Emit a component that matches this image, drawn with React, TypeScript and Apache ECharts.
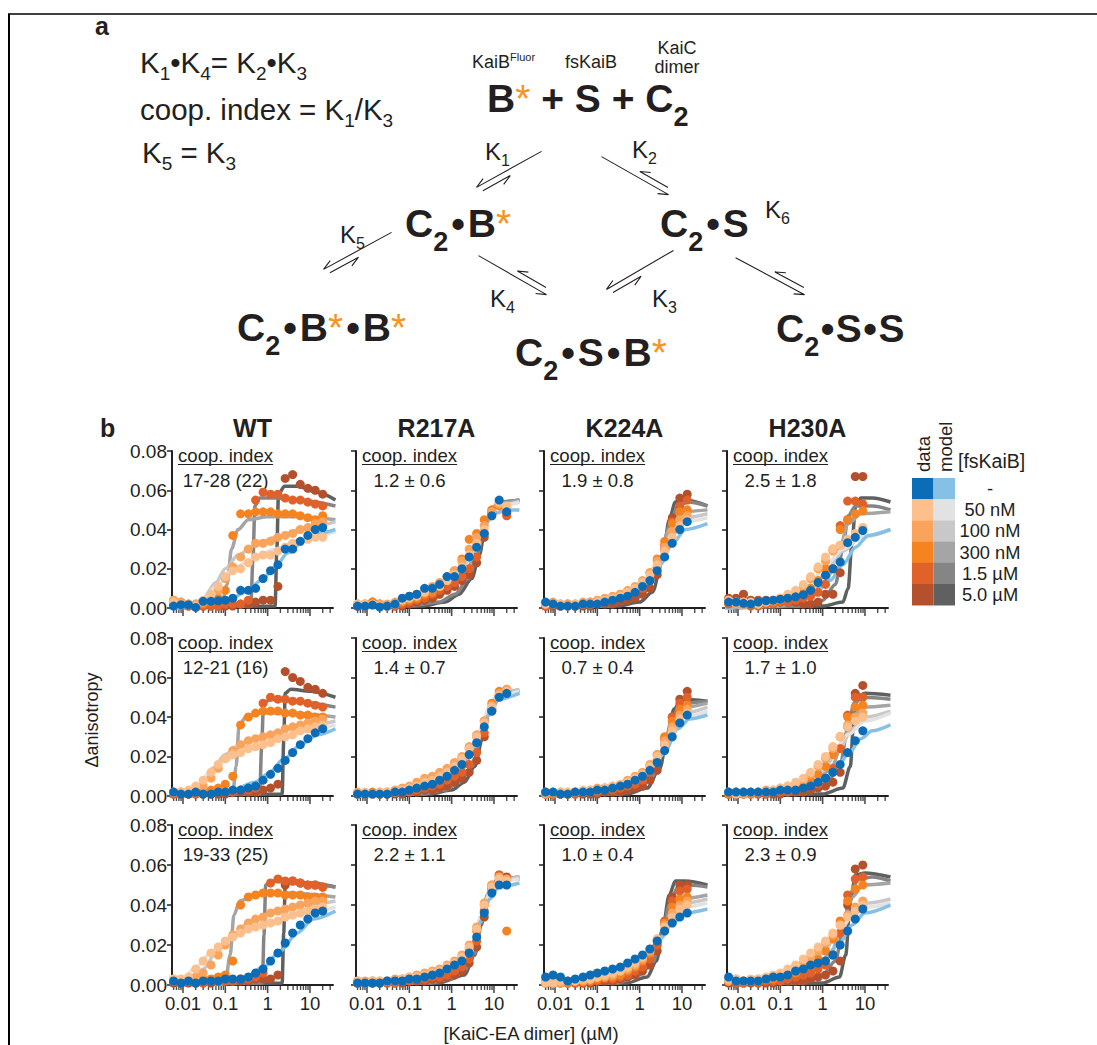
import React, { useEffect, useRef } from 'react';
import * as echarts from 'echarts';

// ---------------- data ----------------
const CONC = [0.006, 0.009, 0.0135, 0.02, 0.03, 0.046, 0.068, 0.1, 0.15, 0.23, 0.35, 0.52, 0.78, 1.17, 1.75, 2.6, 3.9, 5.9, 8.9, 13.3, 20];

const FSKAIB_LABELS = ['-', '50 nM', '100 nM', '300 nM', '1.5 µM', '5.0 µM'];
const DATA_COLORS = ['#0b6db7', '#fdbf8b', '#f9a35b', '#f5831f', '#e0612a', '#b5502c'];
const MODEL_COLORS = ['#86c1e5', '#e2e2e2', '#c8c8c8', '#a5a5a5', '#858585', '#5f6161'];
const MUTANTS = ['WT', 'R217A', 'K224A', 'H230A'];
const COOP_ROW1 = ['17-28 (22)', '1.2 ± 0.6', '1.9 ± 0.8', '2.5 ± 1.8'];
const COOP_ROW2 = ['12-21 (16)', '1.4 ± 0.7', '0.7 ± 0.4', '1.7 ± 1.0'];
const COOP_ROW3 = ['19-33 (25)', '2.2 ± 1.1', '1.0 ± 0.4', '2.3 ± 0.9'];
const Y_MIN = 0;
const Y_MAX = 0.08;
const Y_STEP = 0.02;
const X_MIN = 0.0055;
const X_MAX = 35;
const X_MAJOR_TICKS = [0.01, 0.1, 1, 10];
const X_TICK_LABELS = ['0.01', '0.1', '1', '10'];
const X_MINOR_TICKS = [0.006, 0.007, 0.008, 0.009, 0.02, 0.03, 0.04, 0.05, 0.06, 0.07, 0.08, 0.09, 0.2, 0.3, 0.4, 0.5, 0.6, 0.7, 0.8, 0.9, 2, 3, 4, 5, 6, 7, 8, 9, 20, 30];

// WT, replicate 1
const WT1_DATA = [
  [0.001, 0.0017, 0.0017, 0.0003, 0.0034, 0.0034, 0.0037, 0.004, 0.005, 0.009, 0.009, 0.010, 0.015, 0.019, 0.022, 0.030, 0.030, 0.034, 0.037, 0.040, 0.041],
  [0.003, 0.002, 0.002, 0.001, 0.004, 0.007, 0.011, 0.016, 0.019, 0.020, 0.023, 0.026, 0.027, 0.027, 0.029, 0.031, 0.033, 0.034, 0.035, 0.036, 0.036],
  [0.004, 0.003, 0.002, 0.002, 0.003, 0.005, 0.009, 0.015, 0.021, 0.026, 0.030, 0.033, 0.033, 0.034, 0.036, 0.037, 0.038, 0.040, 0.041, 0.043, 0.044],
  [0.004, 0.003, 0.002, 0.002, 0.002, 0.003, 0.005, 0.009, 0.037, 0.048, 0.048, 0.049, 0.049, 0.049, 0.048, 0.048, 0.048, 0.047, 0.046, 0.045, 0.047],
  [0.002, 0.002, 0.001, 0.001, 0.001, 0.001, 0.001, 0.002, 0.002, 0.002, 0.004, 0.055, 0.059, 0.058, 0.058, 0.056, 0.055, 0.055, 0.054, 0.053, 0.052],
  [0.002, 0.002, 0.001, 0.001, 0.001, 0.001, 0.001, 0.001, 0.001, 0.002, 0.002, 0.003, 0.004, 0.004, 0.011, 0.066, 0.068, 0.063, 0.061, 0.060, 0.058],
];
const WT1_MODEL = [
  [[0.005, 0], [0.03, 0.0005], [0.1, 0.003], [0.3, 0.008], [0.7, 0.014], [1.5, 0.021], [3, 0.028], [7, 0.034], [15, 0.038], [40, 0.040]],
  [[0.005, 0], [0.018, 0.0005], [0.03, 0.004], [0.06, 0.011], [0.14, 0.019], [0.4, 0.025], [1.5, 0.030], [6, 0.035], [40, 0.039]],
  [[0.005, 0], [0.015, 0.0005], [0.03, 0.005], [0.06, 0.013], [0.1, 0.02], [0.2, 0.027], [0.5, 0.032], [1.5, 0.036], [6, 0.040], [40, 0.044]],
  [[0.005, 0], [0.08, 0.001], [0.11, 0.012], [0.14, 0.030], [0.2, 0.040], [0.35, 0.045], [1, 0.0465], [5, 0.0465], [40, 0.045]],
  [[0.005, 0], [0.4, 0.001], [0.45, 0.025], [0.5, 0.052], [0.65, 0.056], [1.5, 0.056], [5, 0.055], [40, 0.052]],
  [[0.005, 0], [1.5, 0.001], [1.65, 0.03], [1.8, 0.058], [2.5, 0.062], [5, 0.062], [15, 0.059], [40, 0.055]],
];

// WT, replicate 2
const WT2_DATA = [
  [0.002, 0.001, 0.001, 0.002, 0.001, 0.001, 0.002, 0.002, 0.003, 0.003, 0.004, 0.005, 0.008, 0.011, 0.014, 0.018, 0.022, 0.026, 0.029, 0.032, 0.034],
  [0.002, 0.002, 0.003, 0.005, 0.008, 0.012, 0.016, 0.019, 0.021, 0.022, 0.024, 0.025, 0.026, 0.027, 0.029, 0.030, 0.031, 0.033, 0.034, 0.035, 0.036],
  [0.002, 0.002, 0.002, 0.003, 0.005, 0.009, 0.014, 0.019, 0.023, 0.026, 0.028, 0.029, 0.030, 0.031, 0.032, 0.034, 0.035, 0.036, 0.037, 0.038, 0.039],
  [0.002, 0.001, 0.002, 0.002, 0.002, 0.003, 0.004, 0.006, 0.010, 0.036, 0.040, 0.042, 0.043, 0.043, 0.043, 0.042, 0.042, 0.041, 0.041, 0.040, 0.040],
  [0.001, 0.002, 0.001, 0.001, 0.001, 0.002, 0.002, 0.002, 0.002, 0.003, 0.003, 0.004, 0.047, 0.050, 0.049, 0.049, 0.048, 0.048, 0.047, 0.046, 0.045],
  [0.001, 0.001, 0.001, 0.001, 0.001, 0.001, 0.001, 0.001, 0.002, 0.002, 0.002, 0.002, 0.003, 0.004, 0.006, 0.063, 0.060, 0.058, 0.055, 0.054, 0.052],
];
const WT2_MODEL = [
  [[0.005, 0], [0.05, 0.0005], [0.15, 0.003], [0.5, 0.007], [1, 0.011], [2.5, 0.019], [6, 0.026], [15, 0.031], [40, 0.034]],
  [[0.005, 0], [0.01, 0.001], [0.02, 0.005], [0.04, 0.011], [0.1, 0.018], [0.3, 0.023], [1, 0.027], [5, 0.032], [40, 0.036]],
  [[0.005, 0], [0.012, 0.001], [0.025, 0.006], [0.05, 0.014], [0.1, 0.021], [0.25, 0.027], [1, 0.031], [5, 0.035], [40, 0.038]],
  [[0.005, 0], [0.15, 0.001], [0.18, 0.015], [0.21, 0.035], [0.3, 0.040], [0.6, 0.042], [3, 0.042], [40, 0.040]],
  [[0.005, 0], [0.65, 0.001], [0.72, 0.025], [0.8, 0.047], [1.2, 0.049], [4, 0.048], [40, 0.045]],
  [[0.005, 0], [2.2, 0.001], [2.4, 0.028], [2.6, 0.052], [3.5, 0.054], [10, 0.053], [40, 0.050]],
];

// WT, replicate 3
const WT3_DATA = [
  [0.002, 0.001, 0.002, 0.001, 0.002, 0.002, 0.002, 0.003, 0.003, 0.003, 0.004, 0.006, 0.008, 0.012, 0.016, 0.021, 0.026, 0.030, 0.033, 0.036, 0.037],
  [0.003, 0.003, 0.004, 0.008, 0.012, 0.016, 0.019, 0.022, 0.024, 0.026, 0.028, 0.029, 0.030, 0.031, 0.032, 0.034, 0.035, 0.036, 0.037, 0.038, 0.039],
  [0.003, 0.002, 0.003, 0.004, 0.006, 0.010, 0.015, 0.020, 0.025, 0.028, 0.031, 0.033, 0.034, 0.036, 0.037, 0.038, 0.039, 0.040, 0.041, 0.042, 0.042],
  [0.002, 0.002, 0.002, 0.002, 0.003, 0.003, 0.004, 0.005, 0.012, 0.040, 0.044, 0.045, 0.046, 0.046, 0.046, 0.045, 0.045, 0.045, 0.044, 0.044, 0.044],
  [0.002, 0.001, 0.002, 0.001, 0.001, 0.002, 0.002, 0.002, 0.002, 0.003, 0.003, 0.004, 0.006, 0.051, 0.053, 0.052, 0.052, 0.051, 0.050, 0.050, 0.049],
  [0.001, 0.001, 0.001, 0.001, 0.001, 0.001, 0.002, 0.002, 0.002, 0.002, 0.002, 0.003, 0.003, 0.003, 0.005, 0.050, 0.052, 0.051, 0.050, 0.050, 0.049],
];
const WT3_MODEL = [
  [[0.005, 0], [0.08, 0.0005], [0.3, 0.004], [0.8, 0.009], [2, 0.017], [5, 0.026], [12, 0.033], [40, 0.037]],
  [[0.005, 0], [0.01, 0.003], [0.02, 0.009], [0.05, 0.017], [0.15, 0.024], [0.5, 0.029], [2, 0.033], [8, 0.036], [40, 0.039]],
  [[0.005, 0], [0.015, 0.002], [0.03, 0.008], [0.06, 0.016], [0.15, 0.025], [0.4, 0.032], [1.5, 0.037], [8, 0.040], [40, 0.042]],
  [[0.005, 0], [0.1, 0.001], [0.13, 0.015], [0.16, 0.035], [0.22, 0.042], [0.5, 0.045], [3, 0.046], [40, 0.044]],
  [[0.005, 0], [0.75, 0.001], [0.82, 0.025], [0.9, 0.050], [1.3, 0.052], [4, 0.051], [40, 0.049]],
  [[0.005, 0], [2.2, 0.001], [2.4, 0.026], [2.6, 0.050], [3.5, 0.052], [10, 0.051], [40, 0.049]],
];

// R217A
const R217A1_DATA = [
  [0.001, 0.001, 0.0015, 0.0005, 0.001, 0.002, 0.005, 0.006, 0.007, 0.010, 0.010, 0.012, 0.016, 0.016, 0.020, 0.026, 0.031, 0.038, 0.047, 0.055, 0.049],
  [0.002, 0.002, 0.002, 0.001, 0.001, 0.002, 0.004, 0.005, 0.006, 0.008, 0.010, 0.011, 0.014, 0.017, 0.021, 0.027, 0.033, 0.040, 0.047, 0.054, 0.052],
  [0.002, 0.001, 0.002, 0.002, 0.002, 0.003, 0.004, 0.006, 0.007, 0.009, 0.011, 0.013, 0.016, 0.019, 0.024, 0.030, 0.036, 0.042, 0.049, 0.053, 0.051],
  [0.002, 0.002, 0.003, 0.002, 0.001, 0.002, 0.003, 0.004, 0.005, 0.007, 0.008, 0.011, 0.014, 0.019, 0.025, 0.035, 0.038, 0.045, 0.050, 0.052, 0.050],
  [0.001, 0.002, 0.003, 0.002, 0.001, 0.001, 0.002, 0.003, 0.004, 0.005, 0.007, 0.009, 0.011, 0.013, 0.016, 0.020, 0.026, 0.038, 0.048, 0.053, 0.047],
  [0.001, 0.001, 0.002, 0.001, 0.001, 0.001, 0.001, 0.002, 0.003, 0.004, 0.005, 0.007, 0.009, 0.011, 0.014, 0.017, 0.023, 0.036, 0.049, 0.054, 0.048],
];
const R217A1_MODEL = [
  [[0.005, 0], [0.05, 0.002], [0.15, 0.005], [0.5, 0.010], [1.2, 0.016], [2.5, 0.026], [4, 0.035], [6, 0.042], [10, 0.048], [20, 0.05], [40, 0.05]],
  [[0.005, 0], [0.1, 0.003], [0.4, 0.008], [1.2, 0.015], [2.5, 0.025], [4, 0.035], [7, 0.046], [12, 0.052], [40, 0.054]],
  [[0.005, 0], [0.1, 0.002], [0.4, 0.007], [1.2, 0.014], [2.5, 0.024], [4, 0.034], [7, 0.046], [12, 0.052], [40, 0.054]],
  [[0.005, 0], [0.1, 0.002], [0.4, 0.005], [1.2, 0.011], [2.5, 0.021], [4, 0.032], [7, 0.046], [12, 0.053], [40, 0.055]],
  [[0.005, 0], [0.1, 0.001], [0.5, 0.003], [1.2, 0.007], [2.5, 0.015], [4, 0.027], [6, 0.042], [9, 0.051], [15, 0.054], [40, 0.055]],
  [[0.005, 0], [0.2, 0.001], [0.7, 0.003], [1.5, 0.007], [3, 0.015], [4.5, 0.027], [6.5, 0.043], [9, 0.051], [15, 0.054], [40, 0.055]],
];
const R217A2_DATA = [
  [0.001, 0.001, 0.001, 0.001, 0.001, 0.002, 0.002, 0.003, 0.004, 0.005, 0.006, 0.008, 0.010, 0.013, 0.016, 0.021, 0.027, 0.035, 0.043, 0.050, 0.052],
  [0.001, 0.002, 0.001, 0.002, 0.002, 0.002, 0.003, 0.004, 0.005, 0.007, 0.008, 0.010, 0.012, 0.015, 0.019, 0.024, 0.030, 0.037, 0.045, 0.051, 0.053],
  [0.002, 0.001, 0.001, 0.002, 0.002, 0.003, 0.004, 0.005, 0.007, 0.009, 0.010, 0.012, 0.014, 0.017, 0.020, 0.025, 0.031, 0.038, 0.046, 0.052, 0.054],
  [0.001, 0.001, 0.002, 0.001, 0.002, 0.002, 0.003, 0.004, 0.005, 0.007, 0.009, 0.011, 0.013, 0.016, 0.019, 0.024, 0.030, 0.038, 0.047, 0.053, 0.054],
  [0.001, 0.001, 0.001, 0.001, 0.001, 0.002, 0.002, 0.002, 0.003, 0.004, 0.005, 0.006, 0.008, 0.010, 0.012, 0.016, 0.022, 0.032, 0.044, 0.051, 0.053],
  [0.001, 0.001, 0.001, 0.001, 0.001, 0.001, 0.001, 0.002, 0.002, 0.003, 0.003, 0.004, 0.005, 0.007, 0.009, 0.012, 0.018, 0.030, 0.043, 0.051, 0.052],
];
const R217A2_MODEL = [
  [[0.005, 0], [0.05, 0.001], [0.2, 0.004], [0.6, 0.008], [1.5, 0.014], [3, 0.023], [5, 0.032], [8, 0.042], [13, 0.049], [40, 0.052]],
  [[0.005, 0], [0.1, 0.002], [0.5, 0.007], [1.5, 0.014], [3, 0.024], [5, 0.034], [8, 0.045], [13, 0.051], [40, 0.053]],
  [[0.005, 0], [0.1, 0.002], [0.5, 0.006], [1.5, 0.013], [3, 0.023], [5, 0.034], [8, 0.045], [13, 0.051], [40, 0.054]],
  [[0.005, 0], [0.1, 0.001], [0.5, 0.005], [1.5, 0.011], [3, 0.021], [5, 0.033], [8, 0.045], [13, 0.052], [40, 0.054]],
  [[0.005, 0], [0.2, 0.001], [0.7, 0.003], [1.5, 0.007], [3, 0.015], [5, 0.029], [8, 0.044], [13, 0.051], [40, 0.053]],
  [[0.005, 0], [0.3, 0.001], [1, 0.003], [2, 0.007], [3.5, 0.015], [5.5, 0.030], [8, 0.044], [13, 0.051], [40, 0.053]],
];
const R217A3_DATA = [
  [0.001, 0.001, 0.001, 0.001, 0.002, 0.002, 0.002, 0.003, 0.003, 0.004, 0.005, 0.006, 0.008, 0.010, 0.012, 0.016, 0.024, 0.036, 0.046, 0.050, 0.050],
  [0.002, 0.001, 0.002, 0.002, 0.002, 0.002, 0.003, 0.004, 0.004, 0.005, 0.006, 0.007, 0.009, 0.011, 0.014, 0.019, 0.028, 0.040, 0.049, 0.053, 0.052],
  [0.001, 0.002, 0.002, 0.002, 0.002, 0.003, 0.003, 0.004, 0.005, 0.006, 0.007, 0.008, 0.010, 0.012, 0.015, 0.020, 0.029, 0.041, 0.050, 0.054, 0.053],
  [0.002, 0.001, 0.002, 0.001, 0.002, 0.002, 0.003, 0.003, 0.004, 0.005, 0.006, 0.007, 0.008, 0.010, 0.013, 0.018, 0.027, 0.040, 0.050, 0.054, 0.027],
  [0.001, 0.001, 0.001, 0.001, 0.001, 0.001, 0.002, 0.002, 0.003, 0.003, 0.004, 0.004, 0.005, 0.007, 0.009, 0.013, 0.022, 0.037, 0.049, 0.055, 0.053],
  [0.001, 0.001, 0.001, 0.001, 0.001, 0.001, 0.001, 0.002, 0.002, 0.002, 0.003, 0.003, 0.004, 0.005, 0.007, 0.011, 0.019, 0.034, 0.048, 0.055, 0.054],
];
const R217A3_MODEL = [
  [[0.005, 0], [0.1, 0.002], [0.5, 0.006], [1.5, 0.012], [3, 0.020], [5, 0.032], [8, 0.043], [13, 0.049], [40, 0.051]],
  [[0.005, 0], [0.1, 0.002], [0.5, 0.005], [1.5, 0.011], [3, 0.020], [5, 0.034], [8, 0.046], [13, 0.052], [40, 0.053]],
  [[0.005, 0], [0.1, 0.002], [0.5, 0.005], [1.5, 0.010], [3, 0.019], [5, 0.034], [8, 0.047], [13, 0.052], [40, 0.054]],
  [[0.005, 0], [0.1, 0.001], [0.5, 0.004], [1.5, 0.009], [3, 0.018], [5, 0.034], [8, 0.047], [13, 0.053], [40, 0.054]],
  [[0.005, 0], [0.3, 0.001], [1, 0.003], [2, 0.007], [3.5, 0.016], [5, 0.031], [7.5, 0.046], [12, 0.053], [40, 0.054]],
  [[0.005, 0], [0.5, 0.001], [2, 0.005], [3.5, 0.015], [5, 0.030], [7, 0.045], [10, 0.051], [15, 0.053], [40, 0.053]],
];

// K224A
const K224A1_DATA = [
  [0.003, 0.002, 0.001, 0.001, 0.001, 0.002, 0.002, 0.002, 0.003, 0.004, 0.005, 0.006, 0.008, 0.011, 0.014, 0.019, 0.026, 0.033, 0.040, 0.044],
  [0.002, 0.002, 0.002, 0.001, 0.002, 0.002, 0.002, 0.003, 0.004, 0.005, 0.006, 0.008, 0.010, 0.013, 0.017, 0.022, 0.029, 0.036, 0.042, 0.045],
  [0.002, 0.003, 0.002, 0.002, 0.002, 0.003, 0.003, 0.004, 0.005, 0.006, 0.007, 0.009, 0.011, 0.014, 0.018, 0.024, 0.031, 0.039, 0.045, 0.047],
  [0.002, 0.002, 0.002, 0.002, 0.002, 0.002, 0.003, 0.003, 0.004, 0.005, 0.007, 0.008, 0.010, 0.013, 0.018, 0.025, 0.034, 0.043, 0.049, 0.050],
  [0.001, 0.002, 0.001, 0.002, 0.001, 0.002, 0.002, 0.002, 0.003, 0.004, 0.005, 0.006, 0.008, 0.010, 0.014, 0.021, 0.032, 0.044, 0.052, 0.055],
  [0.001, 0.001, 0.001, 0.001, 0.001, 0.001, 0.001, 0.002, 0.002, 0.002, 0.003, 0.004, 0.005, 0.007, 0.010, 0.017, 0.030, 0.046, 0.056, 0.058],
];
const K224A1_MODEL = [
  [[0.005, 0], [0.05, 0.001], [0.2, 0.003], [0.6, 0.007], [1.5, 0.013], [3, 0.022], [6, 0.033], [12, 0.040], [40, 0.043]],
  [[0.005, 0], [0.05, 0.001], [0.2, 0.003], [0.6, 0.008], [1.5, 0.015], [3, 0.025], [6, 0.037], [12, 0.044], [40, 0.046]],
  [[0.005, 0], [0.1, 0.002], [0.5, 0.006], [1.5, 0.014], [3, 0.025], [6, 0.039], [12, 0.046], [40, 0.048]],
  [[0.005, 0], [0.1, 0.001], [0.5, 0.005], [1.5, 0.012], [3, 0.025], [5, 0.040], [9, 0.049], [40, 0.050]],
  [[0.005, 0], [0.2, 0.001], [0.7, 0.004], [1.5, 0.009], [3, 0.022], [5, 0.042], [8, 0.052], [14, 0.054], [40, 0.052]],
  [[0.005, 0], [0.3, 0.001], [1, 0.003], [2, 0.008], [3.5, 0.025], [5, 0.045], [7, 0.054], [12, 0.055], [40, 0.052]],
];
const K224A2_DATA = [
  [0.002, 0.002, 0.001, 0.001, 0.002, 0.002, 0.002, 0.003, 0.003, 0.004, 0.005, 0.006, 0.008, 0.010, 0.013, 0.017, 0.023, 0.030, 0.037, 0.041],
  [0.002, 0.002, 0.002, 0.002, 0.002, 0.003, 0.003, 0.003, 0.004, 0.005, 0.006, 0.007, 0.009, 0.011, 0.015, 0.020, 0.026, 0.033, 0.039, 0.042],
  [0.001, 0.002, 0.002, 0.002, 0.002, 0.002, 0.003, 0.004, 0.004, 0.005, 0.006, 0.008, 0.010, 0.012, 0.016, 0.021, 0.028, 0.035, 0.041, 0.044],
  [0.002, 0.001, 0.002, 0.001, 0.002, 0.002, 0.002, 0.003, 0.004, 0.004, 0.005, 0.007, 0.008, 0.011, 0.015, 0.021, 0.030, 0.038, 0.044, 0.046],
  [0.001, 0.001, 0.001, 0.001, 0.001, 0.002, 0.002, 0.002, 0.003, 0.003, 0.004, 0.005, 0.006, 0.008, 0.012, 0.018, 0.029, 0.040, 0.047, 0.050],
  [0.001, 0.001, 0.001, 0.001, 0.001, 0.001, 0.001, 0.001, 0.002, 0.002, 0.002, 0.003, 0.004, 0.005, 0.008, 0.013, 0.026, 0.040, 0.049, 0.053],
];
const K224A2_MODEL = [
  [[0.005, 0], [0.05, 0.001], [0.3, 0.004], [1, 0.008], [2, 0.013], [4, 0.023], [8, 0.034], [15, 0.039], [40, 0.041]],
  [[0.005, 0], [0.1, 0.002], [0.5, 0.005], [1.5, 0.011], [3, 0.020], [6, 0.032], [12, 0.040], [40, 0.043]],
  [[0.005, 0], [0.1, 0.002], [0.5, 0.005], [1.5, 0.011], [3, 0.021], [6, 0.034], [12, 0.042], [40, 0.045]],
  [[0.005, 0], [0.1, 0.001], [0.5, 0.004], [1.5, 0.010], [3, 0.020], [6, 0.036], [12, 0.045], [40, 0.047]],
  [[0.005, 0], [0.3, 0.001], [1, 0.004], [2, 0.010], [3.5, 0.022], [6, 0.040], [10, 0.047], [40, 0.048]],
  [[0.005, 0], [0.5, 0.001], [1.5, 0.004], [3, 0.014], [4.5, 0.030], [6.5, 0.044], [10, 0.049], [40, 0.048]],
];
const K224A3_DATA = [
  [0.004, 0.005, 0.004, 0.002, 0.003, 0.004, 0.005, 0.006, 0.007, 0.008, 0.009, 0.011, 0.013, 0.015, 0.018, 0.022, 0.027, 0.031, 0.034, 0.036],
  [0.001, 0.001, 0.002, 0.002, 0.002, 0.003, 0.003, 0.004, 0.005, 0.006, 0.007, 0.009, 0.011, 0.014, 0.018, 0.023, 0.029, 0.034, 0.038, 0.040],
  [0.002, 0.001, 0.001, 0.002, 0.002, 0.002, 0.003, 0.004, 0.004, 0.005, 0.007, 0.008, 0.010, 0.013, 0.017, 0.023, 0.030, 0.036, 0.040, 0.042],
  [0.001, 0.002, 0.001, 0.001, 0.002, 0.002, 0.002, 0.003, 0.004, 0.004, 0.005, 0.007, 0.009, 0.012, 0.016, 0.022, 0.031, 0.039, 0.043, 0.044],
  [0.001, 0.001, 0.001, 0.001, 0.001, 0.001, 0.002, 0.002, 0.003, 0.003, 0.004, 0.005, 0.007, 0.009, 0.013, 0.020, 0.032, 0.042, 0.047, 0.048],
  [0.001, 0.001, 0.001, 0.001, 0.001, 0.001, 0.001, 0.002, 0.002, 0.002, 0.003, 0.004, 0.005, 0.007, 0.010, 0.017, 0.031, 0.044, 0.050, 0.050],
];
const K224A3_MODEL = [
  [[0.005, 0.001], [0.05, 0.003], [0.2, 0.006], [0.6, 0.010], [1.5, 0.016], [3, 0.023], [6, 0.031], [12, 0.036], [40, 0.038]],
  [[0.005, 0], [0.05, 0.002], [0.3, 0.005], [1, 0.011], [3, 0.022], [6, 0.033], [12, 0.039], [40, 0.041]],
  [[0.005, 0], [0.05, 0.001], [0.3, 0.004], [1, 0.010], [3, 0.022], [6, 0.035], [12, 0.041], [40, 0.043]],
  [[0.005, 0], [0.1, 0.001], [0.5, 0.005], [1.5, 0.011], [3, 0.022], [5, 0.035], [9, 0.043], [40, 0.045]],
  [[0.005, 0], [0.3, 0.001], [1, 0.005], [2, 0.011], [3.5, 0.027], [5, 0.040], [8, 0.049], [15, 0.050], [40, 0.049]],
  [[0.005, 0], [0.5, 0.001], [1.5, 0.004], [2.5, 0.012], [3.5, 0.028], [5, 0.045], [7, 0.052], [12, 0.052], [40, 0.050]],
];

// H230A
const H230A1_DATA = [
  [0.003, 0.003, 0.0024, 0.002, 0.003, 0.0037, 0.004, 0.0045, 0.005, 0.0057, 0.0068, 0.009, 0.013, 0.0167, 0.020, 0.0235, 0.0333, 0.036, 0.0395],
  [0.004, 0.003, 0.003, 0.003, 0.002, 0.003, 0.004, 0.005, 0.007, 0.009, 0.012, 0.016, 0.021, 0.026, 0.030, 0.032, 0.035, 0.038, 0.041],
  [0.003, 0.002, 0.002, 0.002, 0.002, 0.003, 0.004, 0.005, 0.006, 0.008, 0.011, 0.015, 0.020, 0.024, 0.029, 0.032, 0.034, 0.0375, 0.041],
  [0.004, 0.003, 0.003, 0.002, 0.002, 0.003, 0.003, 0.004, 0.005, 0.006, 0.008, 0.010, 0.014, 0.020, 0.030, 0.040, 0.045, 0.048, 0.0495],
  [0.002, 0.002, 0.002, 0.001, 0.001, 0.002, 0.002, 0.003, 0.003, 0.004, 0.005, 0.006, 0.008, 0.012, 0.020, 0.042, 0.0545, 0.0545, 0.053],
  [0.005, 0.005, 0.007, 0.004, 0.004, 0.004, 0.003, 0.003, 0.003, 0.003, 0.002, 0.002, 0.003, 0.007, 0.007, 0.018, 0.045, 0.067, 0.067],
];
const H230A1_MODEL = [
  [[0.005, 0], [0.05, 0.001], [0.2, 0.003], [0.6, 0.007], [1.5, 0.014], [3, 0.022], [6, 0.031], [12, 0.037], [40, 0.040]],
  [[0.005, 0], [0.05, 0.001], [0.2, 0.005], [0.5, 0.012], [1.2, 0.022], [3, 0.030], [8, 0.036], [40, 0.040]],
  [[0.005, 0], [0.05, 0.001], [0.2, 0.004], [0.6, 0.011], [1.5, 0.021], [3, 0.029], [8, 0.036], [40, 0.040]],
  [[0.005, 0], [0.1, 0.001], [0.5, 0.006], [1.2, 0.014], [2.5, 0.030], [4, 0.043], [8, 0.048], [40, 0.049]],
  [[0.005, 0], [0.3, 0.001], [1, 0.004], [2, 0.012], [3, 0.030], [4, 0.047], [6, 0.052], [15, 0.052], [40, 0.050]],
  [[0.005, 0], [1, 0.001], [3, 0.003], [4, 0.010], [5, 0.035], [6, 0.052], [8, 0.056], [15, 0.056], [40, 0.054]],
];
const H230A2_DATA = [
  [0.002, 0.002, 0.002, 0.002, 0.002, 0.002, 0.002, 0.003, 0.003, 0.003, 0.004, 0.005, 0.007, 0.009, 0.012, 0.016, 0.022, 0.028, 0.033],
  [0.002, 0.001, 0.002, 0.002, 0.002, 0.002, 0.003, 0.004, 0.005, 0.007, 0.009, 0.012, 0.016, 0.020, 0.025, 0.030, 0.035, 0.038, 0.040],
  [0.002, 0.002, 0.001, 0.002, 0.002, 0.003, 0.003, 0.004, 0.005, 0.006, 0.008, 0.011, 0.015, 0.019, 0.024, 0.030, 0.036, 0.040, 0.042],
  [0.001, 0.002, 0.002, 0.001, 0.002, 0.002, 0.002, 0.003, 0.004, 0.005, 0.006, 0.008, 0.011, 0.015, 0.021, 0.030, 0.040, 0.045, 0.046],
  [0.001, 0.001, 0.001, 0.001, 0.001, 0.001, 0.002, 0.002, 0.002, 0.003, 0.004, 0.005, 0.006, 0.009, 0.014, 0.024, 0.041, 0.050, 0.050],
  [0.001, 0.001, 0.001, 0.001, 0.001, 0.001, 0.001, 0.001, 0.002, 0.002, 0.002, 0.003, 0.004, 0.005, 0.007, 0.012, 0.035, 0.052, 0.056],
];
const H230A2_MODEL = [
  [[0.005, 0], [0.1, 0.001], [0.4, 0.004], [1, 0.008], [2, 0.013], [4, 0.021], [8, 0.029], [15, 0.033], [40, 0.036]],
  [[0.005, 0], [0.05, 0.001], [0.2, 0.004], [0.6, 0.011], [1.5, 0.020], [4, 0.031], [10, 0.038], [40, 0.042]],
  [[0.005, 0], [0.05, 0.001], [0.3, 0.005], [1, 0.013], [2.5, 0.024], [5, 0.034], [10, 0.040], [40, 0.043]],
  [[0.005, 0], [0.1, 0.001], [0.5, 0.005], [1.5, 0.013], [3, 0.027], [5, 0.040], [9, 0.045], [40, 0.046]],
  [[0.005, 0], [0.3, 0.001], [1, 0.004], [2.5, 0.014], [4, 0.035], [5.5, 0.047], [9, 0.050], [40, 0.049]],
  [[0.005, 0], [1, 0.001], [3, 0.004], [4.5, 0.015], [5.5, 0.040], [6.5, 0.050], [10, 0.052], [40, 0.051]],
];
const H230A3_DATA = [
  [0.004, 0.002, 0.002, 0.002, 0.002, 0.003, 0.004, 0.004, 0.005, 0.007, 0.008, 0.010, 0.011, 0.012, 0.015, 0.020, 0.027, 0.033, 0.038],
  [0.003, 0.003, 0.002, 0.003, 0.003, 0.004, 0.005, 0.006, 0.008, 0.010, 0.013, 0.016, 0.019, 0.022, 0.026, 0.030, 0.034, 0.037, 0.040],
  [0.002, 0.003, 0.002, 0.002, 0.003, 0.003, 0.004, 0.005, 0.007, 0.009, 0.011, 0.014, 0.017, 0.021, 0.025, 0.030, 0.035, 0.039, 0.042],
  [0.002, 0.002, 0.002, 0.002, 0.002, 0.003, 0.003, 0.004, 0.005, 0.006, 0.008, 0.010, 0.013, 0.017, 0.023, 0.032, 0.042, 0.048, 0.050],
  [0.002, 0.001, 0.001, 0.002, 0.001, 0.002, 0.002, 0.002, 0.003, 0.004, 0.005, 0.006, 0.008, 0.010, 0.015, 0.026, 0.045, 0.053, 0.054],
  [0.001, 0.001, 0.001, 0.001, 0.001, 0.001, 0.001, 0.002, 0.002, 0.002, 0.002, 0.003, 0.004, 0.005, 0.007, 0.012, 0.040, 0.058, 0.060],
];
const H230A3_MODEL = [
  [[0.005, 0], [0.05, 0.002], [0.3, 0.006], [1, 0.012], [2.5, 0.021], [5, 0.030], [10, 0.036], [40, 0.040]],
  [[0.005, 0], [0.03, 0.002], [0.2, 0.008], [0.7, 0.016], [2, 0.026], [5, 0.034], [12, 0.039], [40, 0.041]],
  [[0.005, 0], [0.05, 0.002], [0.3, 0.008], [1, 0.016], [2.5, 0.027], [6, 0.037], [12, 0.041], [40, 0.043]],
  [[0.005, 0], [0.1, 0.002], [0.5, 0.007], [1.5, 0.015], [3, 0.030], [5, 0.044], [9, 0.050], [40, 0.051]],
  [[0.005, 0], [0.3, 0.001], [1, 0.005], [2, 0.012], [3, 0.027], [4.5, 0.046], [7, 0.053], [15, 0.054], [40, 0.052]],
  [[0.005, 0], [1, 0.001], [2.5, 0.004], [3.5, 0.015], [4.5, 0.042], [6, 0.055], [10, 0.056], [40, 0.054]],
];

const PANEL_ROWS = [
  [[WT1_DATA, WT1_MODEL], [R217A1_DATA, R217A1_MODEL], [K224A1_DATA, K224A1_MODEL], [H230A1_DATA, H230A1_MODEL]],
  [[WT2_DATA, WT2_MODEL], [R217A2_DATA, R217A2_MODEL], [K224A2_DATA, K224A2_MODEL], [H230A2_DATA, H230A2_MODEL]],
  [[WT3_DATA, WT3_MODEL], [R217A3_DATA, R217A3_MODEL], [K224A3_DATA, K224A3_MODEL], [H230A3_DATA, H230A3_MODEL]],
];
const COOP_ROWS = [COOP_ROW1, COOP_ROW2, COOP_ROW3];

// ---------------- layout & style ----------------
const FONT = '"Liberation Sans", Arial, Helvetica, sans-serif';
const INK = '#231f20';
const STAR = '#f7941d';
const COL_X = [172, 356, 544, 727];
const PLOT_W = 161;
const ROW_Y = [451, 638, 825];
const ROW_H = [157, 158, 160];

let measureCtx: CanvasRenderingContext2D | null = null;
function textWidth(t: string, size: number, weight: string) {
  if (!measureCtx) measureCtx = document.createElement('canvas').getContext('2d');
  measureCtx!.font = `${weight} ${size}px ${FONT}`;
  return measureCtx!.measureText(t).width;
}

// baseline-positioned text; for rotated text y is the centre line
function txt(text: string, x: number, baseline: number, size: number, o: any = {}) {
  const align = o.align || 'left';
  return {
    type: 'text',
    x,
    y: o.rotation ? baseline : baseline - 0.35 * size,
    rotation: o.rotation || 0,
    silent: true,
    style: {
      text,
      fontSize: size,
      fontFamily: FONT,
      fontWeight: o.weight || 'normal',
      fill: o.color || INK,
      align,
      textAlign: align,
      verticalAlign: 'middle',
      textVerticalAlign: 'middle',
    },
  };
}

type Seg = [string, string];
function segLine(segs: Seg[], x0: number, baseline: number, o: any) {
  const els: any[] = [];
  const pad = o.dotPad || 0;
  const sizeOf = (k: string) => (k === 'sub' ? o.subSize : k === 'sup' ? o.supSize : o.size);
  const weightOf = (k: string) => (k === 'star' ? 'normal' : o.weight || 'normal');
  const adv = (t: string, k: string) => textWidth(t, sizeOf(k), weightOf(k)) + (k === 'dot' ? 2 * pad : 0);
  let total = 0;
  for (const [t, k] of segs) total += adv(t, k);
  let x = o.center ? x0 - total / 2 : x0;
  for (const [t, k] of segs) {
    const size = sizeOf(k);
    const bl = k === 'sub' ? baseline + o.subDy : k === 'sup' ? baseline - o.supDy : baseline;
    els.push(txt(t, x + (k === 'dot' ? pad : 0), bl, size, { weight: weightOf(k), color: k === 'star' ? STAR : INK }));
    x += adv(t, k);
  }
  return els;
}

function harpoon(x1: number, y1: number, x2: number, y2: number) {
  const dx = x2 - x1, dy = y2 - y1, len = Math.hypot(dx, dy);
  const ux = dx / len, uy = dy / len;
  const nx = -uy, ny = ux;
  const g = 3, b = 10, bw = 4.5;
  const ax1 = x1 + nx * g, ay1 = y1 + ny * g, ax2 = x2 + nx * g, ay2 = y2 + ny * g;
  const s = len * 0.42;
  const bx1 = x2 - nx * g - ux * 4, by1 = y2 - ny * g - uy * 4;
  const bx2 = bx1 - ux * s, by2 = by1 - uy * s;
  const st = { stroke: INK, lineWidth: 1.1, fill: null };
  return [
    { type: 'polyline', silent: true, shape: { points: [[ax1, ay1], [ax2, ay2], [ax2 - ux * b + nx * bw, ay2 - uy * b + ny * bw]] }, style: st },
    { type: 'polyline', silent: true, shape: { points: [[bx1, by1], [bx2, by2], [bx2 + ux * b - nx * bw, by2 + uy * b - ny * bw]] }, style: st },
  ];
}

function buildGraphics() {
  const els: any[] = [];
  // frame
  els.push({ type: 'line', silent: true, shape: { x1: 8, y1: 14, x2: 1097, y2: 14 }, style: { stroke: '#000', lineWidth: 1.5 } });
  els.push({ type: 'line', silent: true, shape: { x1: 9, y1: 14, x2: 9, y2: 1045 }, style: { stroke: '#000', lineWidth: 2 } });
  // panel labels
  els.push(txt('a', 95, 35, 25, { weight: 'bold' }));
  els.push(txt('b', 100, 437, 25, { weight: 'bold' }));
  // equations
  const eq = { size: 29.5, subSize: 19, subDy: 7.5 };
  els.push(...segLine([['K', 'n'], ['1', 'sub'], ['•K', 'n'], ['4', 'sub'], ['= K', 'n'], ['2', 'sub'], ['•K', 'n'], ['3', 'sub']], 140, 73, eq));
  els.push(...segLine([['coop. index = K', 'n'], ['1', 'sub'], ['/K', 'n'], ['3', 'sub']], 140, 120, eq));
  els.push(...segLine([['K', 'n'], ['5', 'sub'], [' = K', 'n'], ['3', 'sub']], 142, 163, eq));
  // scheme labels
  els.push(...segLine([['KaiB', 'n'], ['Fluor', 'sup']], 472, 68, { size: 18, supSize: 11, supDy: 7 }));
  els.push(txt('fsKaiB', 591, 68, 18, { align: 'center' }));
  els.push(txt('KaiC', 677, 54, 18, { align: 'center' }));
  els.push(txt('dimer', 677, 73, 18, { align: 'center' }));
  const sp = { size: 39, subSize: 27, subDy: 14, weight: 'bold', dotPad: 3 };
  els.push(...segLine([['B', 'n'], ['*', 'star'], [' + S + C', 'n'], ['2', 'sub']], 487, 112, sp));
  els.push(...segLine([['C', 'n'], ['2', 'sub'], ['•', 'dot'], ['B', 'n'], ['*', 'star']], 405, 237, sp));
  els.push(...segLine([['C', 'n'], ['2', 'sub'], ['•', 'dot'], ['S', 'n']], 660, 237, sp));
  els.push(...segLine([['C', 'n'], ['2', 'sub'], ['•', 'dot'], ['B', 'n'], ['*', 'star'], ['•', 'dot'], ['B', 'n'], ['*', 'star']], 237, 341, sp));
  els.push(...segLine([['C', 'n'], ['2', 'sub'], ['•', 'dot'], ['S', 'n'], ['•', 'dot'], ['B', 'n'], ['*', 'star']], 515, 366, sp));
  els.push(...segLine([['C', 'n'], ['2', 'sub'], ['•', 'dot'], ['S', 'n'], ['•', 'dot'], ['S', 'n']], 776, 342, { ...sp, dotPad: 1.5 }));
  const kl = { size: 24, subSize: 16, subDy: 6 };
  els.push(...segLine([['K', 'n'], ['1', 'sub']], 485, 160, kl));
  els.push(...segLine([['K', 'n'], ['2', 'sub']], 632, 158, kl));
  els.push(...segLine([['K', 'n'], ['5', 'sub']], 340, 243, kl));
  els.push(...segLine([['K', 'n'], ['6', 'sub']], 765, 218, kl));
  els.push(...segLine([['K', 'n'], ['4', 'sub']], 490, 307, kl));
  els.push(...segLine([['K', 'n'], ['3', 'sub']], 652, 307, kl));
  els.push(...harpoon(543, 154, 478, 190));
  els.push(...harpoon(603, 154, 670, 192));
  els.push(...harpoon(393, 235, 325, 272));
  els.push(...harpoon(480, 253, 548, 292));
  els.push(...harpoon(675, 253, 608, 292));
  els.push(...harpoon(737, 255, 806, 292));

  // column titles & coop indices
  for (let c = 0; c < 4; c++) {
    els.push(txt(MUTANTS[c], COL_X[c] + PLOT_W / 2, 437, 25, { weight: 'bold', align: 'center' }));
    for (let r = 0; r < 3; r++) {
      const lx = COL_X[c] + 6;
      const bl = ROW_Y[r] + 11;
      const w = textWidth('coop. index', 18.6, 'normal');
      els.push(txt('coop. index', lx, bl, 18.6));
      els.push({ type: 'line', silent: true, shape: { x1: lx, y1: bl + 2.5, x2: lx + w, y2: bl + 2.5 }, style: { stroke: INK, lineWidth: 1.2 } });
      els.push(txt(COOP_ROWS[r][c], lx + w / 2, bl + 25, 18.6, { align: 'center' }));
    }
  }
  // axis titles
  els.push(txt('Δanisotropy', 92, 720, 18, { rotation: Math.PI / 2, align: 'center' }));
  els.push(txt('[KaiC-EA dimer] (µM)', 531, 1040, 18.5, { align: 'center' }));

  // legend
  const LX = 912, LY = 478, RH = 21.2;
  for (let i = 0; i < 6; i++) {
    els.push({ type: 'rect', silent: true, shape: { x: LX, y: LY + i * RH, width: 21.5, height: RH + 0.3 }, style: { fill: DATA_COLORS[i] } });
    els.push({ type: 'rect', silent: true, shape: { x: LX + 21.5, y: LY + i * RH, width: 21.5, height: RH + 0.3 }, style: { fill: MODEL_COLORS[i] } });
    els.push(txt(FSKAIB_LABELS[i], 990, LY + i * RH + RH / 2 + 6.3, 18.3, { align: 'center' }));
  }
  els.push(txt('data', 923, 472, 18.5, { rotation: Math.PI / 2 }));
  els.push(txt('model', 945, 472, 18.5, { rotation: Math.PI / 2 }));
  els.push(txt('[fsKaiB]', 958, 468, 19.5));
  return els;
}

function labelFor(v: number) {
  for (let i = 0; i < X_MAJOR_TICKS.length; i++) {
    if (Math.abs(Math.log10(v) - Math.log10(X_MAJOR_TICKS[i])) < 1e-6) return X_TICK_LABELS[i];
  }
  return '';
}

function buildOption() {
  const grid: any[] = [], xAxis: any[] = [], yAxis: any[] = [], series: any[] = [];
  let idx = 0;
  for (let r = 0; r < 3; r++) {
    for (let c = 0; c < 4; c++) {
      grid.push({ left: COL_X[c], top: ROW_Y[r], width: PLOT_W, height: ROW_H[r], containLabel: false, outerBoundsMode: 'none' });
      xAxis.push({
        type: 'log', logBase: 10, gridIndex: idx, min: X_MIN, max: X_MAX,
        axisLine: { show: true, onZero: false, lineStyle: { color: INK, width: 2 } },
        axisTick: { show: false }, splitLine: { show: false }, minorTick: { show: false },
        axisLabel: { show: r === 2, interval: 0, fontSize: 18.5, fontFamily: FONT, color: INK, margin: 9, formatter: (v: number) => labelFor(v), showMinLabel: false, showMaxLabel: false },
      });
      yAxis.push({
        type: 'value', gridIndex: idx, min: Y_MIN, max: Y_MAX, interval: Y_STEP,
        axisLine: { show: true, lineStyle: { color: INK, width: 2 } },
        axisTick: { show: true, length: 5, lineStyle: { color: INK, width: 1.5 } },
        splitLine: { show: false },
        axisLabel: { show: c === 0, fontSize: 19, fontFamily: FONT, color: INK, margin: 5, formatter: (v: number) => v.toFixed(2) },
      });
      series.push({
        type: 'scatter', xAxisIndex: idx, yAxisIndex: idx, silent: true, clip: false, z: 1,
        symbol: 'rect', symbolSize: [1.4, 4], symbolOffset: [0, 3],
        itemStyle: { color: INK }, data: X_MINOR_TICKS.filter((t) => t > X_MIN && t < X_MAX).map((t) => [t, 0]),
      });
      series.push({
        type: 'scatter', xAxisIndex: idx, yAxisIndex: idx, silent: true, clip: false, z: 1,
        symbol: 'rect', symbolSize: [1.6, 7], symbolOffset: [0, 4.5],
        itemStyle: { color: INK }, data: X_MAJOR_TICKS.map((t) => [t, 0]),
      });
      const [data, model] = PANEL_ROWS[r][c] as any;
      for (let k = 5; k >= 0; k--) {
        series.push({
          type: 'line', xAxisIndex: idx, yAxisIndex: idx, silent: true, showSymbol: false, symbol: 'none',
          smooth: 0.3, smoothMonotone: 'x', clip: true, z: 2,
          lineStyle: { color: MODEL_COLORS[k], width: 3.5 }, data: model[k],
        });
        series.push({
          type: 'scatter', xAxisIndex: idx, yAxisIndex: idx, silent: true, clip: false, z: 2,
          symbolSize: 9, itemStyle: { color: DATA_COLORS[k], opacity: 1 },
          data: (data[k] as number[]).map((v, j) => [CONC[j], v]),
        });
      }
      idx++;
    }
  }
  return { animation: false, backgroundColor: '#fff', grid, xAxis, yAxis, series, graphic: { elements: buildGraphics() } };
}

export default function App() {
  const ref = useRef<HTMLDivElement>(null);
  useEffect(() => {
    document.body.style.margin = '0';
    const chart = echarts.init(ref.current!, null, { renderer: 'svg' });
    chart.setOption(buildOption() as any);
    return () => chart.dispose();
  }, []);
  return <div ref={ref} style={{ width: 1097, height: 1045 }} />;
}
